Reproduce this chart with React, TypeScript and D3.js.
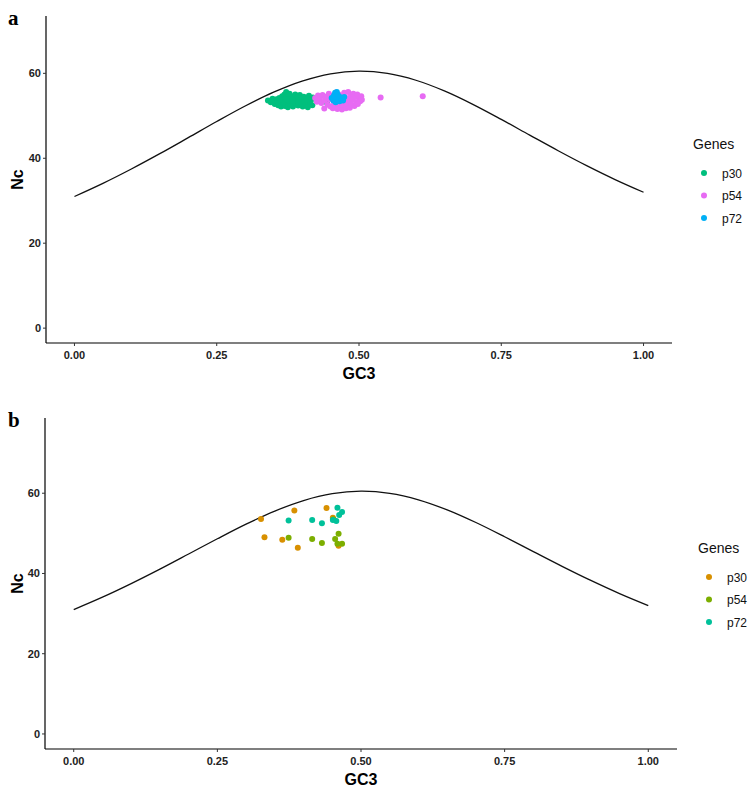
import React from "react";
import * as d3 from "d3";

// Expected Nc curve values (GC3, Nc)
const curveGC3 = [0, 0.05, 0.1, 0.15, 0.2, 0.25, 0.3, 0.35, 0.4, 0.45, 0.5, 0.55, 0.6, 0.65, 0.7, 0.75, 0.8, 0.85, 0.9, 0.95, 1];
const curveNc = [31, 34.09, 37.47, 41.08, 44.85, 48.65, 52.3, 55.56, 58.17, 59.88, 60.5, 59.98, 58.37, 55.86, 52.7, 49.15, 45.45, 41.78, 38.27, 34.99, 32];

const xTicks = [0, 0.25, 0.5, 0.75, 1];
const yTicks = [0, 20, 40, 60];
const genes = ["p30", "p54", "p72"];

// Panel a
const aP30: [number, number][] = [
  [0.340, 53.6], [0.345, 53.2], [0.348, 54.0], [0.350, 53.5], [0.352, 52.8], [0.355, 53.9], [0.357, 53.3], [0.358, 52.5],
  [0.360, 54.2], [0.362, 53.0], [0.363, 52.2], [0.365, 54.6], [0.366, 53.6], [0.368, 52.9], [0.369, 55.0], [0.370, 52.3],
  [0.371, 54.2], [0.372, 55.6], [0.373, 53.4], [0.375, 52.0], [0.376, 54.8], [0.377, 53.0], [0.378, 55.2], [0.380, 52.6],
  [0.381, 54.0], [0.382, 53.5], [0.384, 52.2], [0.385, 54.6], [0.386, 53.1], [0.388, 55.0], [0.389, 52.7], [0.390, 53.9],
  [0.392, 54.4], [0.393, 52.4], [0.395, 53.4], [0.396, 54.9], [0.398, 52.9], [0.400, 53.8], [0.401, 52.2], [0.403, 54.5],
  [0.404, 53.3], [0.406, 52.6], [0.407, 54.0], [0.409, 53.5], [0.410, 52.0], [0.412, 54.7], [0.414, 53.0], [0.416, 53.8],
  [0.418, 52.5], [0.419, 54.3], [0.372, 53.9], [0.383, 53.6], [0.394, 53.2], [0.361, 53.8], [0.444, 53.0], [0.485, 52.5],
];
const aP54: [number, number][] = [
  [0.423, 54.2], [0.426, 53.3], [0.428, 54.8], [0.430, 53.8], [0.432, 54.4], [0.434, 53.0], [0.436, 54.9], [0.439, 51.7],
  [0.440, 53.6], [0.442, 54.5], [0.445, 52.6], [0.447, 55.2], [0.448, 53.9], [0.450, 52.2], [0.452, 54.7], [0.454, 51.8],
  [0.456, 53.2], [0.458, 52.0], [0.460, 55.5], [0.462, 51.6], [0.464, 52.8], [0.465, 55.0], [0.467, 52.2], [0.468, 53.6],
  [0.470, 51.5], [0.471, 54.6], [0.473, 52.5], [0.474, 55.4], [0.476, 53.3], [0.477, 51.8], [0.478, 54.2], [0.480, 52.8],
  [0.481, 55.6], [0.483, 53.6], [0.484, 51.9], [0.486, 54.8], [0.487, 52.6], [0.489, 53.9], [0.490, 55.2], [0.492, 52.3],
  [0.493, 54.4], [0.495, 53.1], [0.497, 55.0], [0.498, 52.8], [0.500, 54.0], [0.502, 53.4], [0.504, 54.6], [0.505, 53.8],
  [0.538, 54.3], [0.612, 54.6],
];
const aP72: [number, number][] = [
  [0.452, 54.2], [0.455, 53.6], [0.456, 54.8], [0.458, 55.4], [0.459, 53.2], [0.460, 54.4], [0.462, 55.0], [0.463, 53.8],
  [0.465, 54.6], [0.466, 53.4], [0.468, 54.2], [0.470, 54.0], [0.472, 53.6], [0.474, 54.4], [0.461, 55.6],
];

// Panel b
const bP30: [number, number][] = [
  [0.326, 53.6], [0.384, 55.7], [0.440, 56.3], [0.332, 49.0], [0.363, 48.4], [0.390, 46.4], [0.461, 46.9], [0.451, 53.9],
];
const bP54: [number, number][] = [
  [0.374, 48.9], [0.415, 48.6], [0.432, 47.6], [0.461, 49.9], [0.455, 48.6], [0.459, 47.4], [0.467, 47.4], [0.452, 53.5],
];
const bP72: [number, number][] = [
  [0.374, 53.2], [0.415, 53.3], [0.432, 52.5], [0.459, 56.4], [0.467, 55.3], [0.462, 54.6], [0.451, 53.3], [0.457, 53.1],
];

const colorsA = ["#00BF7D", "#E76BF3", "#00B0F6"];
const colorsB = ["#D89000", "#7CAE00", "#00C19A"];

const tickFont = "'Liberation Sans Narrow', 'Arial Narrow', 'Liberation Sans', Arial, sans-serif";
const sansFont = "'Liberation Sans', Arial, sans-serif";

type PanelProps = {
  label: string;
  left: number; right: number; top: number; bottom: number;
  yMax: number;
  series: [number, number][][];
  colors: string[];
  legendX: number; legendY: number;
};

function Panel({ label, left, right, top, bottom, yMax, series, colors, legendX, legendY }: PanelProps) {
  const x = d3.scaleLinear().domain([-0.05, 1.05]).range([left, right]);
  const yExp = yMax * 0.05;
  const y = d3.scaleLinear().domain([-yExp, yMax + yExp]).range([bottom, top]);
  const line = d3.line<number>()
    .x((_, i) => x(curveGC3[i]))
    .y((d) => y(d))
    .curve(d3.curveCatmullRom);
  return (
    <g>
      <text x={8} y={top + 9} fontFamily="'Liberation Serif', 'Times New Roman', serif" fontWeight="bold" fontSize={21}>{label}</text>
      <path d={line(curveNc) || ""} fill="none" stroke="#111" strokeWidth={1.3} />
      {series.map((pts, si) =>
        pts.map((p, i) => (
          <circle key={si + "-" + i} cx={x(p[0])} cy={y(p[1])} r={3} fill={colors[si]} />
        ))
      )}
      <line x1={left} x2={left} y1={top} y2={bottom} stroke="#000" strokeWidth={1.2} />
      <line x1={left} x2={right} y1={bottom} y2={bottom} stroke="#000" strokeWidth={1.2} />
      {yTicks.map((t) => (
        <g key={"y" + t}>
          <line x1={left - 3} x2={left} y1={y(t)} y2={y(t)} stroke="#333" strokeWidth={1} />
          <text x={left - 5} y={y(t) + 4} textAnchor="end" fontFamily={tickFont} fontWeight="bold" fontSize={11} fill="#222">{t}</text>
        </g>
      ))}
      {xTicks.map((t) => (
        <g key={"x" + t}>
          <line x1={x(t)} x2={x(t)} y1={bottom} y2={bottom + 3} stroke="#333" strokeWidth={1} />
          <text x={x(t)} y={bottom + 16} textAnchor="middle" fontFamily={tickFont} fontWeight="bold" fontSize={11} fill="#222">{d3.format(".2f")(t)}</text>
        </g>
      ))}
      <text x={(left + right) / 2} y={bottom + 36} textAnchor="middle" fontFamily={sansFont} fontWeight="bold" fontSize={16}>GC3</text>
      <text transform={`translate(${23},${(top + bottom) / 2}) rotate(-90)`} textAnchor="middle" fontFamily={sansFont} fontWeight="bold" fontSize={16}>Nc</text>
      <text x={legendX} y={legendY} fontFamily={sansFont} fontSize={14} fill="#111">Genes</text>
      {genes.map((g, i) => (
        <g key={g}>
          <circle cx={legendX + 11} cy={legendY + 24 + i * 22.5} r={3} fill={colors[i]} />
          <text x={legendX + 29} y={legendY + 28.5 + i * 22.5} fontFamily={sansFont} fontSize={12} fill="#111">{g}</text>
        </g>
      ))}
    </g>
  );
}

export default function App() {
  return (
    <svg width={755} height={788} style={{ position: "absolute", left: 0, top: 0, background: "#fff" }}>
      <Panel label="a" left={46} right={672} top={16} bottom={343} yMax={70}
        series={[aP30, aP54, aP72]} colors={colorsA} legendX={693} legendY={149} />
      <Panel label="b" left={45} right={677} top={418} bottom={749} yMax={75}
        series={[bP30, bP54, bP72]} colors={colorsB} legendX={698} legendY={553} />
    </svg>
  );
}
